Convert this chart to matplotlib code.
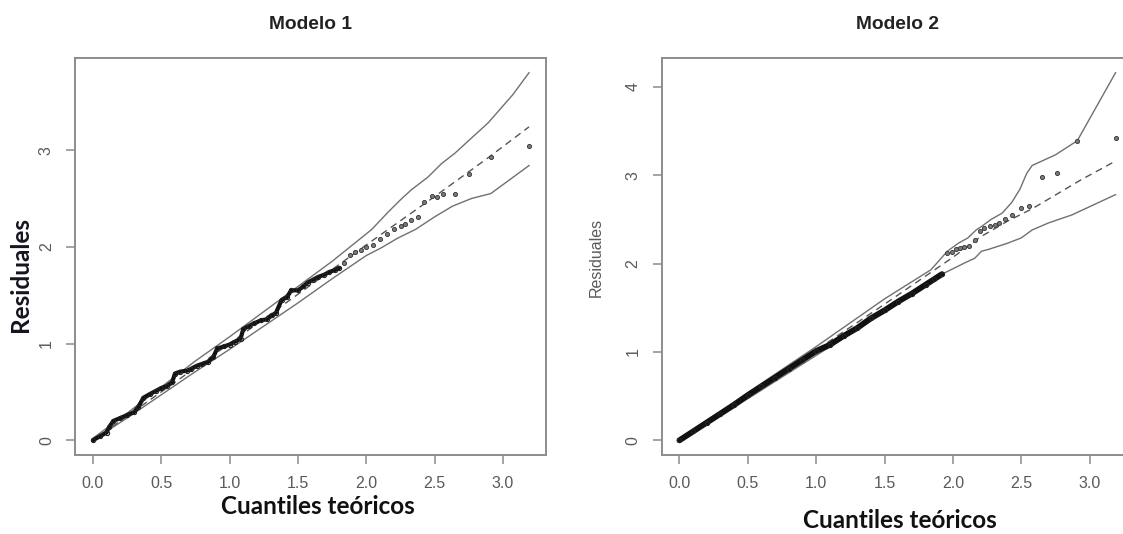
import matplotlib
matplotlib.use("Agg")
import matplotlib.pyplot as plt

# ---- Modelo 1 ----
m1_dense_x = [0.00, 0.05, 0.10, 0.12, 0.15, 0.20, 0.25, 0.30, 0.33, 0.37, 0.42, 0.46, 0.50,
              0.54, 0.58, 0.60, 0.64, 0.69, 0.72, 0.76, 0.80, 0.84, 0.88, 0.91, 0.96, 1.00,
              1.04, 1.08, 1.10, 1.14, 1.18, 1.23, 1.27, 1.31, 1.34, 1.38, 1.42, 1.45, 1.50,
              1.54, 1.57, 1.61, 1.65, 1.69, 1.73, 1.77, 1.80]
m1_dense_y = [0.00, 0.04, 0.08, 0.14, 0.20, 0.23, 0.26, 0.29, 0.34, 0.44, 0.48, 0.51, 0.54,
              0.56, 0.60, 0.69, 0.71, 0.72, 0.74, 0.77, 0.79, 0.81, 0.86, 0.95, 0.97, 0.99,
              1.02, 1.05, 1.15, 1.18, 1.21, 1.24, 1.25, 1.29, 1.32, 1.45, 1.48, 1.55, 1.55,
              1.59, 1.63, 1.66, 1.69, 1.71, 1.74, 1.76, 1.78]
m1_tail_x = [1.84, 1.88, 1.92, 1.96, 2.00, 2.05, 2.10, 2.15, 2.20, 2.25, 2.28, 2.33, 2.38,
             2.42, 2.48, 2.52, 2.56, 2.65, 2.75, 2.91, 3.19]
m1_tail_y = [1.83, 1.92, 1.95, 1.97, 2.00, 2.02, 2.08, 2.13, 2.18, 2.22, 2.24, 2.28, 2.31,
             2.46, 2.53, 2.52, 2.55, 2.55, 2.75, 2.93, 3.04]
m1_upper_x = [0, 0.25, 0.5, 0.75, 1.0, 1.25, 1.5, 1.75, 2.04, 2.16, 2.26, 2.33, 2.45, 2.55,
              2.65, 2.75, 2.89, 3.07, 3.19]
m1_upper_y = [0.02, 0.28, 0.55, 0.82, 1.07, 1.33, 1.59, 1.85, 2.18, 2.36, 2.50, 2.59, 2.72,
              2.86, 2.97, 3.10, 3.28, 3.57, 3.80]
m1_lower_x = [0, 0.25, 0.5, 0.75, 1.0, 1.25, 1.5, 1.75, 2.0, 2.11, 2.23, 2.36, 2.50, 2.63,
              2.77, 2.91, 3.19]
m1_lower_y = [0, 0.23, 0.47, 0.71, 0.94, 1.18, 1.42, 1.67, 1.91, 1.99, 2.09, 2.18, 2.31,
              2.42, 2.50, 2.55, 2.84]
m1_median_x = [0, 0.5, 1.0, 1.5, 2.0, 2.5, 2.9, 3.19]
m1_median_y = [0, 0.50, 1.00, 1.51, 2.02, 2.52, 2.93, 3.24]

# ---- Modelo 2 ----
m2_dense_x = [0.0, 0.1, 0.2, 0.3, 0.4, 0.5, 0.6, 0.7, 0.8, 0.9, 1.0, 1.1, 1.2, 1.3, 1.4,
              1.5, 1.6, 1.7, 1.8, 1.86, 1.92]
m2_dense_y = [0.0, 0.10, 0.20, 0.30, 0.40, 0.51, 0.61, 0.71, 0.81, 0.91, 1.01, 1.08, 1.18,
              1.27, 1.38, 1.47, 1.57, 1.66, 1.76, 1.82, 1.88]
m2_tail_x = [1.96, 1.99, 2.02, 2.05, 2.08, 2.12, 2.16, 2.20, 2.23, 2.27, 2.31, 2.34, 2.38,
             2.43, 2.50, 2.56, 2.65, 2.76, 2.91, 3.19]
m2_tail_y = [2.12, 2.13, 2.16, 2.18, 2.19, 2.20, 2.27, 2.37, 2.40, 2.42, 2.44, 2.46, 2.50,
             2.55, 2.63, 2.65, 2.98, 3.03, 3.39, 3.42]
m2_upper_x = [0, 0.5, 1.0, 1.5, 1.84, 1.96, 2.04, 2.11, 2.17, 2.21, 2.28, 2.36, 2.43, 2.49,
              2.54, 2.58, 2.75, 2.91, 3.19]
m2_upper_y = [0.02, 0.54, 1.06, 1.60, 1.93, 2.14, 2.23, 2.29, 2.38, 2.42, 2.50, 2.57, 2.69,
              2.84, 3.02, 3.11, 3.23, 3.39, 4.16]
m2_lower_x = [0, 0.5, 1.0, 1.5, 1.84, 1.96, 2.09, 2.16, 2.21, 2.26, 2.40, 2.50, 2.58, 2.70,
              2.87, 3.19]
m2_lower_y = [0, 0.47, 0.96, 1.45, 1.82, 1.91, 2.01, 2.06, 2.14, 2.16, 2.23, 2.29, 2.38,
              2.46, 2.55, 2.78]
m2_median_x = [0, 0.5, 1.0, 1.5, 2.0, 2.2, 2.4, 2.58, 2.7, 2.94, 3.19]
m2_median_y = [0, 0.51, 1.02, 1.54, 2.07, 2.30, 2.48, 2.62, 2.73, 2.95, 3.16]

x_ticks = [0.0, 0.5, 1.0, 1.5, 2.0, 2.5, 3.0]
m1_yticks = [0, 1, 2, 3]
m2_yticks = [0, 1, 2, 3, 4]

TICK_FONT = "Liberation Sans"
LABEL_FONT = "Lato"
GRAY = "#8c8c8c"


def hnp_panel(ax, dense, tail, upper, lower, median, yticks, title, band_lw):
    ax.plot(*upper, color="#707070", lw=1.0)
    ax.plot(*lower, color="#707070", lw=1.0)
    ax.plot(*median, color="#555555", lw=1.0, dashes=(5, 3.5))
    ax.plot(*dense, color="#111111", lw=band_lw, solid_joinstyle="round", solid_capstyle="round")
    ax.plot(*dense, "o", ms=3, mfc="none", mec="#222222", mew=0.8)
    ax.plot(*tail, "o", ms=3.0, mfc="#7a7a7a", mec="#333333", mew=0.6)
    ax.margins(0.04)
    ax.set_xticks(x_ticks)
    ax.set_xticklabels([f"{t:.1f}" for t in x_ticks])
    ax.set_yticks(yticks)
    ax.set_yticklabels([str(t) for t in yticks], rotation=90, va="center")
    for s in ax.spines.values():
        s.set_color(GRAY)
        s.set_linewidth(1.4)
    ax.tick_params(direction="out", length=6.5, width=1.1, color=GRAY,
                   labelcolor="#5a5a5a", labelsize=11.5, pad=9)
    for lab in ax.get_xticklabels() + ax.get_yticklabels():
        lab.set_family(TICK_FONT)
    ax.set_title(title, fontsize=13.8, fontweight="bold", family=TICK_FONT,
                 color="#222222", pad=21)


fig = plt.figure(figsize=(11.23, 5.34), dpi=100)
ax1 = fig.add_axes([0.0672, 0.148, 0.4194, 0.7434])
ax2 = fig.add_axes([0.5895, 0.148, 0.4194, 0.7434])

hnp_panel(ax1, (m1_dense_x, m1_dense_y), (m1_tail_x, m1_tail_y), (m1_upper_x, m1_upper_y),
          (m1_lower_x, m1_lower_y), (m1_median_x, m1_median_y), m1_yticks, "Modelo 1", 3.0)
hnp_panel(ax2, (m2_dense_x, m2_dense_y), (m2_tail_x, m2_tail_y), (m2_upper_x, m2_upper_y),
          (m2_lower_x, m2_lower_y), (m2_median_x, m2_median_y), m2_yticks, "Modelo 2", 4.2)

# axis labels placed in figure pixels (from top-left)
W, H = 1123, 534
fig.text(21 / W, 1 - 274 / H, "Residuales", rotation=90, ha="center", va="center",
         fontsize=17.5, fontweight="bold", family=LABEL_FONT, color="#15151f")
fig.text(596 / W, 1 - 257 / H, "Residuales", rotation=90, ha="center", va="center",
         fontsize=11.5, family=TICK_FONT, color="#5a5a5a")
fig.text(318 / W, 1 - 506 / H, "Cuantiles teóricos", ha="center", va="center",
         fontsize=17.5, fontweight="bold", family=LABEL_FONT, color="#111111")
fig.text(900 / W, 1 - 521 / H, "Cuantiles teóricos", ha="center", va="center",
         fontsize=17.5, fontweight="bold", family=LABEL_FONT, color="#111111")

fig.savefig("out.png", dpi=100, facecolor="white")
